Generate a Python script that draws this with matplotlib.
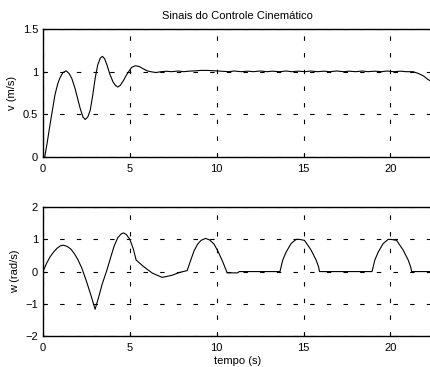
import matplotlib
matplotlib.use('Agg')
import matplotlib.pyplot as plt

# velocidade linear v (m/s)
t_v = [0.0, 0.1, 0.25, 0.4, 0.55, 0.69, 0.85, 0.98, 1.15, 1.33, 1.5, 1.66, 1.85, 2.0, 2.14,
       2.3, 2.43, 2.58, 2.72, 2.86, 3.0, 3.15, 3.3, 3.42, 3.55, 3.68, 3.85, 4.03, 4.17,
       4.3, 4.45, 4.64, 4.8, 4.93, 5.1, 5.32, 5.55, 5.8, 6.0, 6.2, 6.5, 6.8,
       7.1, 7.4, 7.8, 8.1, 8.4, 8.8, 9.1, 9.5, 9.9, 10.3, 10.7, 11.0, 11.4, 11.8, 12.1,
       12.5, 12.9, 13.2, 13.6, 14.0, 14.3, 14.7, 15.1, 15.4, 15.8, 16.2, 16.5, 16.9,
       17.3, 17.6, 18.0, 18.4, 18.7, 19.1, 19.5, 19.8, 20.2, 20.6, 20.9, 21.3, 21.6,
       21.9, 22.15, 22.4]
v = [0.0, 0.0, 0.18, 0.375, 0.56, 0.73, 0.86, 0.93, 0.99, 1.01, 0.98, 0.92, 0.8, 0.68, 0.57,
     0.47, 0.44, 0.47, 0.55, 0.72, 0.92, 1.08, 1.16, 1.18, 1.15, 1.08, 0.97, 0.88, 0.84,
     0.82, 0.84, 0.9, 0.96, 1.0, 1.05, 1.07, 1.06, 1.03, 1.01, 1.0, 0.99, 1.0,
     1.005, 1.0, 1.008, 1.0, 1.006, 1.01, 1.015, 1.015, 1.01, 1.005, 1.0, 1.008, 1.0, 1.006, 1.0,
     1.008, 1.0, 1.006, 1.0, 1.008, 1.0, 1.006, 1.0, 1.008, 1.0, 1.006, 1.0, 1.008,
     1.0, 1.006, 1.0, 1.008, 1.0, 1.006, 1.0, 1.008, 1.0, 1.006, 1.0, 1.0, 0.98,
     0.95, 0.91, 0.88]

# velocidade angular w (rad/s)
t_w = [0.0, 0.2, 0.4, 0.6, 0.8, 1.0, 1.17, 1.4, 1.6, 1.8, 2.0, 2.24, 2.5, 2.75, 3.0,
       3.2, 3.4, 3.68, 3.9, 4.1, 4.3, 4.5, 4.64, 4.8, 5.0, 5.2, 5.36, 5.8, 6.3, 6.86,
       7.4, 7.9, 8.3, 8.5, 8.7, 8.9, 9.1, 9.36, 9.6, 9.85, 10.1, 10.35, 10.6, 11.2, 11.3,
       13.64, 13.8, 14.0, 14.28, 14.57, 14.76, 15.05, 15.43, 15.72, 15.86, 15.92,
       18.94, 19.1, 19.3, 19.58, 19.87, 20.04, 20.35, 20.73, 21.02, 21.16, 21.22, 22.4]
w = [0.0, 0.25, 0.45, 0.6, 0.72, 0.8, 0.82, 0.78, 0.7, 0.56, 0.38, 0.1, -0.3, -0.72, -1.17,
     -0.8, -0.4, 0.05, 0.45, 0.8, 1.05, 1.17, 1.2, 1.15, 1.0, 0.7, 0.36, 0.15, -0.05, -0.18,
     -0.12, -0.02, 0.03, 0.35, 0.65, 0.85, 0.97, 1.03, 0.98, 0.85, 0.6, 0.3, -0.04, -0.04, 0.0,
     0.0, 0.36, 0.61, 0.87, 1.0, 1.0, 0.97, 0.67, 0.36, 0.15, 0.0,
     0.0, 0.36, 0.61, 0.87, 1.0, 1.0, 0.97, 0.67, 0.36, 0.15, 0.0, 0.0]

xticks = [0, 5, 10, 15, 20]

plt.rcParams['font.family'] = 'Liberation Sans'
plt.rcParams['font.size'] = 8

fig = plt.figure(figsize=(4.3, 3.67), dpi=100)
ax1 = fig.add_axes([0.1, 0.572, 0.905, 0.349])
ax2 = fig.add_axes([0.1, 0.0845, 0.905, 0.351])

for ax in (ax1, ax2):
    ax.set_xlim(0, 22.4)
    ax.set_xticks(xticks)
    ax.grid(True, color='k', linestyle=(0, (4, 11)), linewidth=0.8)
    ax.tick_params(direction='in', length=2, width=0.8, labelsize=8)
    ax.tick_params(axis='x', pad=5)
    for s in ax.spines.values():
        s.set_linewidth(1.0)

ax1.plot(t_v, v, color='k', linewidth=0.8)
ax1.set_ylim(0, 1.5)
ax1.set_yticks([0, 0.5, 1, 1.5])
ax1.set_yticklabels(['0', '0.5', '1', '1.5'])
ax1.set_ylabel('v (m/s)', fontsize=8)
ax1.set_title('Sinais do Controle Cinemático', fontsize=8, pad=7)

ax2.plot(t_w, w, color='k', linewidth=0.8)
ax2.set_ylim(-2, 2)
ax2.set_yticks([-2, -1, 0, 1, 2])
ax2.set_ylabel('w (rad/s)', fontsize=8)
ax2.set_xlabel('tempo (s)', fontsize=8, labelpad=2)

fig.savefig('out.png', dpi=100)
